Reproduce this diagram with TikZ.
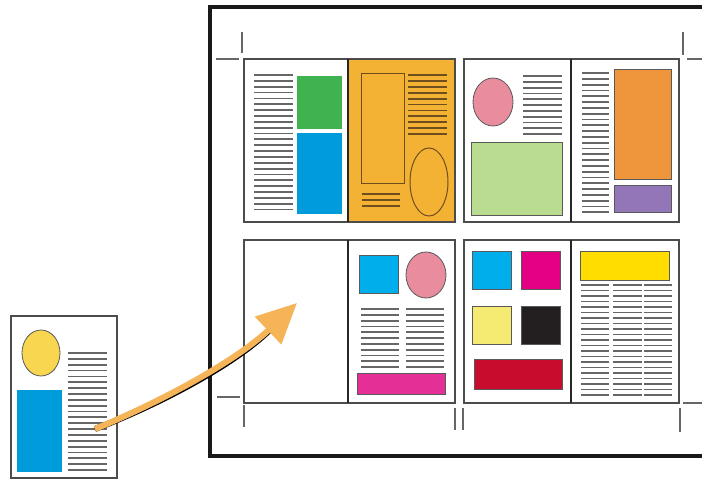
\documentclass[tikz,border=0pt]{standalone}
\usetikzlibrary{arrows.meta}

\definecolor{pageorange}{RGB}{243,178,52}
\definecolor{spotgreen}{RGB}{64,178,80}
\definecolor{spotblue}{RGB}{0,155,218}
\definecolor{spotpink}{RGB}{232,140,158}
\definecolor{spotlime}{RGB}{185,220,145}
\definecolor{spotorange}{RGB}{239,150,60}
\definecolor{spotpurple}{RGB}{146,118,184}
\definecolor{spotcyan}{RGB}{0,174,235}
\definecolor{spotmagenta}{RGB}{228,0,132}
\definecolor{spotpale}{RGB}{245,235,115}
\definecolor{spotblack}{RGB}{35,31,32}
\definecolor{spotred}{RGB}{200,12,46}
\definecolor{spotyellow}{RGB}{255,221,0}
\definecolor{spotrose}{RGB}{228,48,150}
\definecolor{spotsun}{RGB}{248,214,80}
\definecolor{arroworange}{RGB}{245,180,88}
\definecolor{inkbrown}{RGB}{110,78,28}

\tikzset{
  textline/.style={line width=1.8pt, draw=black!60},
  pageframe/.style={line width=1.8pt, draw=black!70, fill=white},
  spine/.style={line width=2.2pt, draw=black!85},
  cropmark/.style={line width=1.3pt, draw=black!60},
  spotbox/.style={line width=0.8pt, draw=black!65},
}

\newcommand{\linecol}[5]{%
  \foreach \k in {1,...,#4}
    \draw[textline] (#1,{#3+(\k-1)*#5}) -- (#2,{#3+(\k-1)*#5});}

\begin{document}
\begin{tikzpicture}[x=1pt,y=-1pt]
    \useasboundingbox (0,0) rectangle (702,479);

    % sheet
    \draw[line width=4pt, draw=black!90] (706,7) -- (210,7) -- (210,456) -- (706,456);

    % crop marks
    \draw[cropmark] (242,32) -- (242,53);
    \draw[cropmark] (216,59) -- (239,59);
    \draw[cropmark] (683,32) -- (683,55);
    \draw[cropmark] (687,59) -- (704,59);
    \draw[cropmark] (217,397) -- (240,397);
    \draw[cropmark] (244,405) -- (244,427);
    \draw[cropmark] (455,408) -- (455,430);
    \draw[cropmark] (463,408) -- (463,430);
    \draw[cropmark] (680,408) -- (680,432);
    \draw[cropmark] (683,403) -- (704,403);

    % page 1
    \draw[pageframe] (244,59) rectangle (348,222);
    \linecol{254}{293}{75}{24}{5.85}
    \fill[spotgreen] (297,76) rectangle (342,129);
    \fill[spotblue] (297,133) rectangle (342,214);

    % page 2
    \draw[pageframe, fill=pageorange] (348,59) rectangle (455,222);
    \draw[line width=1pt, draw=inkbrown] (361,73) rectangle (404,183);
    \foreach \k in {1,...,11}
      \draw[textline, draw=inkbrown] (408,{75+(\k-1)*5.9}) -- (447,{75+(\k-1)*5.9});
    \foreach \k in {1,...,3}
      \draw[textline, draw=inkbrown] (362,{194+(\k-1)*6}) -- (400,{194+(\k-1)*6});
    \draw[line width=1pt, draw=inkbrown] (429,182) ellipse (19 and 34);
    \draw[spine] (348,59) -- (348,222);

    % page 3
    \draw[pageframe] (464,59) rectangle (571,222);
    \draw[spotbox, fill=spotpink] (493,102) ellipse (20 and 24);
    \linecol{523}{562}{76}{11}{5.8}
    \draw[spotbox, fill=spotlime] (471,142) rectangle (562,215);

    % page 4
    \draw[pageframe] (571,59) rectangle (679,222);
    \linecol{582}{609}{73}{25}{5.8}
    \draw[spotbox, fill=spotorange] (614,69) rectangle (671,179);
    \draw[spotbox, fill=spotpurple] (614,185) rectangle (671,212);
    \draw[spine] (571,59) -- (571,222);

    % page 5 and 6
    \draw[pageframe] (244,240) rectangle (348,403);
    \draw[pageframe] (348,240) rectangle (455,403);
    \draw[spotbox, fill=spotcyan] (359,255) rectangle (398,293);
    \draw[spotbox, fill=spotpink] (426,275) ellipse (20 and 23);
    \linecol{361}{399}{309}{11}{5.8}
    \linecol{406}{444}{309}{11}{5.8}
    \draw[spotbox, fill=spotrose] (357,373) rectangle (445,394);
    \draw[spine] (348,240) -- (348,403);

    % page 7 and 8
    \draw[pageframe] (464,240) rectangle (571,403);
    \draw[spotbox, fill=spotcyan] (472,251) rectangle (511,289);
    \draw[spotbox, fill=spotmagenta] (521,251) rectangle (560,289);
    \draw[spotbox, fill=spotpale] (472,306) rectangle (511,344);
    \draw[spotbox, fill=spotblack] (521,306) rectangle (560,344);
    \draw[spotbox, fill=spotred] (474,359) rectangle (562,389);
    \draw[pageframe] (571,240) rectangle (679,403);
    \draw[spotbox, fill=spotyellow] (580,251) rectangle (669,280);
    \linecol{581}{609}{285}{21}{5.5}
    \linecol{613}{642}{285}{21}{5.5}
    \linecol{644}{672}{285}{21}{5.5}
    \draw[spine] (571,240) -- (571,403);

    % single page
    \draw[pageframe] (11,316) rectangle (117,478);
    \draw[spotbox, fill=spotsun] (41,353) ellipse (19 and 23);
    \fill[spotblue] (17,390) rectangle (62,472);
    \linecol{68}{107}{353}{21}{5.85}

    % arrow
    \coordinate (src) at (95,429);
    \coordinate (dst) at (297,303);
    \draw[line width=6pt, black, shift={(0.6,1.8)}, shorten >=38pt]
        (src) .. controls (160,402) and (235,362) .. (dst);
    \draw[line width=6pt, arroworange, -{Triangle[length=40pt,width=37pt]}]
        (src) .. controls (160,402) and (235,362) .. (dst);
\end{tikzpicture}
\end{document}
